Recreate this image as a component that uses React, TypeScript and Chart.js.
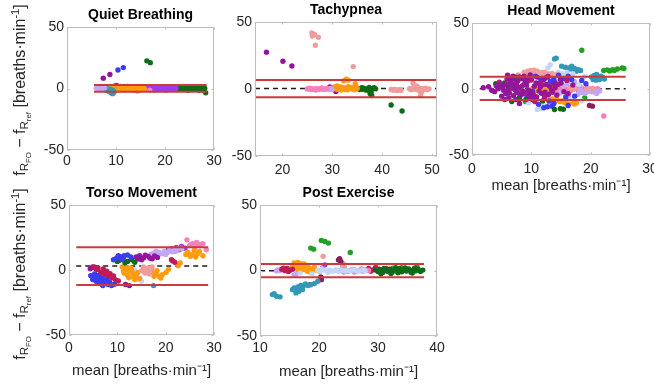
import React, { useEffect, useRef } from 'react';
import { Chart, registerables } from 'chart.js';

Chart.register(...registerables);

type P = [number, number];

// ---------------- Quiet Breathing ----------------
const quietTeal: P[] = [[6.6,-0.8],[7.0,0.4],[7.4,-0.3],[7.9,-1.0],[8.3,-1.8],[8.7,-2.6],[9.0,-3.4],[9.3,-4.2],[9.6,-3.0],[8.9,-0.6],[8.1,0.3],[9.4,-1.5]];
const quietLavender: P[] = [[6.0,0.2],[6.3,-0.3],[6.8,0.5],[7.2,0.0],[7.7,0.6]];
const quietPurple: P[] = [[7.4,8.4],[8.75,11.4],[9.7,1.8],[10.1,2.4],[10.5,1.4],[11.4,0.9],[12.4,1.7],[16.6,1.2]];
const quietBlue: P[] = [[10.4,15.0],[11.5,17.0]];
const quietOrange: P[] = [[8.6,0.3],[8.9,-0.5],[9.2,0.8],[9.5,0.1],[9.8,-0.9],[10.1,0.5],[10.4,1.1],[10.7,-0.2],[11.0,-0.7],[11.3,0.4],[11.6,0.9],[11.9,-0.3],[12.2,0.6],[12.5,0.0],[12.8,-0.8],[13.1,0.5],[13.4,0.2],[13.7,-0.4],[14.0,0.8],[14.3,-0.1],[14.6,0.3],[14.9,-0.6],[15.2,0.5],[15.5,0.1],[15.8,-0.3],[9.0,1.5],[9.6,-1.4],[10.3,-1.2],[11.0,1.6],[11.8,-1.3],[12.6,1.4],[13.3,-1.1],[14.1,1.3],[14.8,-1.2],[15.5,1.2]];
const quietPink: P[] = [[13.8,-1.5],[14.4,-2.0],[15.1,-1.0],[16.9,-1.3]];
const quietViolet: P[] = [[15.9,0.4],[16.2,-0.3],[16.5,0.7],[16.8,0.0],[17.1,-0.6],[17.4,0.5],[17.7,0.9],[18.0,-0.2],[18.3,0.3],[18.6,-0.7],[18.9,0.6],[19.2,0.1],[19.5,-0.4],[19.8,0.8],[20.1,0.0],[20.4,-0.5],[20.7,0.4],[21.0,0.9],[21.3,-0.3],[21.6,0.2],[21.9,-0.6],[22.2,0.5],[16.7,1.4],[17.9,-1.3],[19.0,1.5],[20.2,-1.2],[21.4,1.3]];
const quietDarkGreen: P[] = [[16.3,22.5],[17.0,21.0],[22.7,0.3],[23.0,-0.4],[23.3,0.7],[23.6,0.0],[23.9,-0.7],[24.2,0.5],[24.5,1.0],[24.8,-0.2],[25.1,0.4],[25.4,-0.8],[25.7,0.6],[26.0,0.1],[26.3,-0.5],[26.6,0.9],[26.9,0.0],[27.2,-0.6],[27.5,0.5],[27.8,-1.2],[28.1,0.3],[28.3,-3.5],[23.5,1.5],[24.7,-1.4],[25.9,1.4],[27.0,-1.5]];
const quietLimits = [0.1, 2.8, -2.6];   // bias, upper LoA, lower LoA
const quietSpan = [5.5, 28.5];

// ---------------- Tachypnea ----------------
const tachyPurple: P[] = [[16.8,27.5],[20.1,20.7],[21.9,17.2],[29.5,1.5],[30.7,-1.8]];
const tachySalmon: P[] = [[25.9,41.9],[26.4,40.7],[27.2,38.6],[26.0,39.6],[26.6,32.6],[34.2,16.7],[41.8,-0.3],[42.2,-1.0],[42.6,-0.4],[43.0,-1.2],[43.4,-0.6],[43.8,-0.9],[45.5,0.2],[45.8,-0.5],[46.1,0.8],[46.2,4.5],[46.4,0.0],[46.7,1.2],[47.0,-0.4],[47.3,0.9],[47.5,-1.5],[47.7,-4.8],[47.9,-2.3],[48.1,0.5],[48.4,-0.2],[48.7,0.6],[49.0,-0.5],[49.4,0.1],[46.9,2.2]];
const tachyPink: P[] = [[25.0,0.0],[25.3,0.3],[25.6,-0.2],[25.9,0.2],[26.2,-0.3],[26.5,0.1],[26.8,0.3],[27.1,-0.2],[27.4,0.2],[27.7,-0.1],[28.0,0.3],[28.3,-0.3],[28.6,0.1],[28.9,0.2],[25.5,0.6],[26.7,-0.7],[27.9,0.7]];
const tachyLavender: P[] = [[29.0,0.2],[29.3,-0.3],[29.6,0.3],[29.9,-0.2]];
const tachyOrange: P[] = [[29.6,0.4],[29.9,-0.5],[30.2,0.8],[30.5,0.1],[30.8,1.2],[31.1,-0.3],[31.4,0.6],[31.7,1.5],[32.0,0.2],[32.3,1.0],[32.6,-0.4],[32.9,0.8],[33.2,1.8],[33.5,0.3],[33.8,1.2],[34.1,-0.2],[34.4,0.9],[34.7,2.6],[35.0,0.5],[30.4,1.6],[31.8,-0.8],[33.0,-0.6],[34.5,-0.5],[32.3,6.1],[32.8,7.3],[33.2,6.6],[34.6,4.0],[31.0,2.2]];
const tachyDarkGreen: P[] = [[35.2,0.3],[35.5,-0.4],[35.8,0.6],[36.1,-0.2],[36.4,0.5],[36.7,-0.8],[37.0,0.2],[37.3,-1.2],[37.6,-3.5],[37.9,-4.8],[37.8,-2.0],[38.1,0.4],[38.4,0.9],[38.7,0.1],[36.0,1.0],[37.4,1.1],[41.8,-11.9],[44.0,-16.4]];
const tachyLimits = [0.3, 6.7, -6.1];
const tachySpan = [14.5, 51];

// ---------------- Head Movement ----------------
const headPurple: P[] = [[1.9,0.9],[2.8,1.7],[4.4,0.1],[5.8,3.4],[5.0,-5.4],[6.3,-2.9],[7.2,-0.4],[7.7,5.9],[8.3,-4.2],[9.6,-5.4],[10.5,2.1],[11.3,-1.6],[12.1,7.2],[12.9,-4.2],[8.8,9.7],[6.9,9.7],[5.5,-7.9],[8.0,-11.0],[10.2,-7.9],[14.0,0.9],[14.9,7.2],[6.3,7.2],[4.1,2.2],[7.4,-7.9],[3.3,-1.0],[5.2,1.5],[6.0,-1.2],[6.8,3.0],[7.9,1.2],[8.6,-1.8],[9.2,2.8],[9.9,-2.5],[10.8,4.6],[11.7,-3.3],[12.5,3.5],[13.4,-0.8],[9.0,5.5],[7.0,-5.0],[6.5,5.0],[11.0,9.0],[13.8,4.2],[15.5,-2.0],[8.4,7.8],[9.8,10.6],[5.7,-3.5],[7.6,2.2],[3.8,-2.0],[4.8,3.0],[5.3,-1.0],[6.2,-6.5],[7.0,7.8],[7.8,-3.0],[8.2,0.5],[8.9,4.0],[9.5,-0.8],[10.1,-4.5],[10.9,-6.0],[11.5,1.5],[12.3,-2.5],[13.1,2.0],[14.3,-4.5],[15.0,4.5],[16.2,-3.5],[17.0,3.0],[6.0,10.5],[9.3,8.0]];
const headMagenta: P[] = [[8.0,9.2],[9.4,5.9],[6.6,0.5],[7.3,4.0],[10.0,6.8],[5.9,7.5],[11.6,4.5],[8.9,-3.0],[12.2,-6.0],[10.6,-9.5],[4.6,5.2],[7.5,-2.0],[8.5,2.5],[10.3,-3.5],[11.8,3.0],[13.6,-2.5],[14.5,3.5],[16.0,6.5],[12.8,9.5],[9.7,-6.8]];
const headBlue: P[] = [[10.7,9.7],[11.6,7.2],[12.4,8.4],[13.2,5.9],[13.8,7.7],[16.2,9.7],[16.8,7.2],[12.1,-14.2],[12.7,-13.5],[13.5,-13.0],[9.6,-2.9],[10.2,-1.6],[17.3,-5.4],[7.4,4.6],[11.2,-11.5],[14.6,10.5],[15.5,8.0],[13.0,-9.0],[8.3,8.5],[9.0,-4.0],[11.3,4.2],[14.0,5.0],[15.8,-6.0],[18.5,6.5],[19.2,4.0],[16.2,-12.5],[13.8,-11.0]];
const headDarkGreen: P[] = [[9.1,-7.9],[8.0,-6.6],[13.9,-15.5],[14.9,-15.0],[15.4,-15.3],[10.5,-5.4],[5.5,4.6],[6.1,1.7],[4.0,4.0],[7.3,9.0],[11.9,-9.0],[6.7,-9.5]];
const headGreen: P[] = [[18.5,29.3],[22.2,14.0],[22.8,14.5],[23.7,14.7],[24.5,15.2],[25.3,16.0],[25.6,15.5],[23.2,13.6],[24.0,14.0],[6.9,2.2],[17.9,-0.4],[9.0,-9.5],[16.5,7.8],[19.0,-6.5]];
const headTeal: P[] = [[13.9,22.8],[14.2,23.4],[15.1,17.3],[15.7,16.5],[16.2,16.0],[16.8,17.3],[17.3,15.5],[17.9,14.7],[18.3,14.0],[17.6,13.5],[17.1,14.2],[16.5,15.2],[20.1,9.2],[20.6,10.2],[21.2,8.4],[21.7,9.7],[20.9,6.7],[21.5,7.2],[22.0,8.9],[20.4,7.2],[21.0,11.0],[22.3,7.5]];
const headLightBlue: P[] = [[13.2,18.5],[11.0,-15.5],[11.5,-14.8],[12.8,16.0],[9.5,-10.5],[18.0,3.5],[16.5,-8.0],[15.2,11.5],[14.5,12.5],[17.0,11.5],[19.0,9.5],[12.0,-12.0],[16.0,12.5],[18.5,-9.0]];
const headSalmon: P[] = [[8.8,12.7],[9.4,13.5],[9.9,14.0],[10.5,14.2],[11.0,13.5],[11.6,12.2],[9.6,11.7],[12.2,12.8],[12.8,11.5],[10.2,12.5],[16.5,1.0],[17.2,0.5],[19.5,0.8],[20.4,0.3],[13.5,11.8],[14.3,10.8],[7.8,10.6]];
const headOrange: P[] = [[10.2,0.4],[10.5,-0.3],[10.8,0.8],[11.1,0.0],[11.4,0.6],[11.7,-0.4],[12.0,0.5],[12.3,1.0],[12.6,-0.2],[12.9,0.4],[13.2,-0.6],[13.5,0.7],[13.8,0.1],[11.0,-1.2],[12.5,-1.3],[12.4,-7.0],[12.8,-7.8],[13.2,-8.3],[13.6,-7.5],[14.0,-9.0],[14.4,-8.6],[14.8,-9.6],[15.2,-8.9],[15.6,-10.2],[16.0,-9.4],[16.4,-10.8],[16.8,-10.1],[17.2,-11.4],[17.6,-10.6],[14.2,-7.2],[15.8,-8.0],[13.0,-9.8]];
const headPink: P[] = [[14.0,0.2],[14.4,-0.4],[14.8,0.5],[15.2,-0.1],[15.6,0.6],[16.0,-0.5],[16.4,0.3],[16.8,0.9],[17.2,-0.2],[17.6,0.4],[18.0,-0.6],[18.4,0.7],[18.8,0.0],[19.2,-0.4],[19.6,0.5],[20.0,-0.2],[20.4,0.4],[20.8,-0.5],[21.2,0.2],[15.0,1.3],[16.6,-1.3],[18.2,1.5],[19.8,-1.4],[22.2,-20.5],[13.0,10.0],[12.0,11.0]];
const headLavender: P[] = [[17.9,-4.0],[18.5,-2.5],[19.1,-3.2],[19.7,-1.5],[20.3,-2.2],[20.6,-0.5],[18.2,-1.0],[19.4,0.5],[21.0,-3.5],[16.0,4.0],[15.4,2.5],[11.8,12.3],[10.0,7.5],[13.0,3.0],[14.8,-3.0],[17.3,5.5],[21.5,-1.5],[16.3,-5.5]];
const headPlum: P[] = [[19.8,-12.5],[20.3,-13.0]];
const headLimits = [0.2, 9.3, -8.3];
const headSpan = [1.3, 25.9];

// ---------------- Torso Movement ----------------
const torsoPink: P[] = [[24.4,23.2],[25.5,20.2],[26.4,21.2],[27.0,19.4],[27.7,20.2],[28.4,15.6],[26.1,18.1],[25.0,19.0]];
const torsoOrange: P[] = [[24.6,13.5],[25.5,11.7],[26.6,12.5],[27.7,11.0],[25.1,10.5],[27.0,14.3],[25.9,15.0],[24.2,12.0],[26.2,10.0],[11.0,2.3],[11.7,0.3],[12.5,-1.0],[13.2,-2.8],[13.9,-4.8],[14.6,-6.6],[11.4,-2.3],[12.1,-4.3],[13.6,-7.4],[12.8,1.5],[11.3,-0.8],[12.0,2.0],[13.0,-0.3],[14.2,-2.0],[12.4,-6.0],[13.3,-5.3],[17.2,-1.0],[17.9,-2.8],[18.6,-4.8],[19.3,-3.6],[20.1,-1.8],[17.6,-4.8],[19.0,-6.1],[18.2,-0.5],[20.6,0.5],[22.6,3.3],[23.0,5.4]];
const torsoLavender: P[] = [[17.5,13.0],[18.6,13.5],[19.7,14.3],[20.8,15.0],[21.9,15.6],[22.6,16.1],[18.1,11.7],[19.1,12.5],[20.3,13.3],[21.4,14.0],[23.3,16.6],[17.0,12.2],[18.0,14.5],[20.0,12.0],[22.0,14.2]];
const torsoViolet: P[] = [[21.2,16.3],[22.2,17.3],[23.3,18.1],[24.0,16.8],[22.8,15.6],[21.7,14.8],[20.5,15.5]];
const torsoPurple: P[] = [[13.9,10.0],[14.6,11.0],[15.4,9.2],[16.4,10.5],[17.2,8.7],[18.3,9.7],[15.0,7.9],[14.2,8.5],[15.8,11.3],[16.8,9.0],[17.7,10.8],[11.7,-11.2],[12.5,-12.0],[4.9,2.3],[5.6,0.8],[4.4,1.0]];
const torsoBlue: P[] = [[9.2,7.9],[9.9,9.2],[10.7,10.0],[11.4,11.0],[12.1,11.5],[12.8,10.0],[11.0,7.9],[10.2,11.0],[4.5,-4.3],[5.2,-6.1],[5.9,-7.4],[6.7,-8.7],[7.4,-9.9],[8.1,-11.2],[8.8,-12.0],[6.3,-9.9],[5.6,-8.7],[7.8,-7.4],[4.9,-7.4],[7.0,-12.0],[9.4,-11.0],[6.0,-5.0],[5.3,-3.0],[8.4,-9.5],[6.9,-6.3]];
const torsoDarkGreen: P[] = [[9.6,8.4],[10.3,7.4],[11.2,8.4],[12.1,6.6],[13.0,7.9],[10.0,6.6],[13.6,5.9],[11.6,5.6]];
const torsoCrimson: P[] = [[5.2,2.3],[5.9,0.3],[6.7,-1.8],[7.4,-3.6],[8.1,-4.8],[8.8,-6.1],[9.6,-7.4],[6.3,-3.6],[7.8,-1.0],[8.5,-2.8],[10.2,-8.5],[9.2,-4.5],[7.1,0.8],[6.0,1.5],[21.2,7.9],[21.9,5.9],[21.5,7.0]];
const torsoSalmon: P[] = [[15.4,2.3],[16.1,0.3],[16.8,-1.0],[15.7,-2.3],[16.4,1.5],[17.2,2.3],[15.0,-0.5],[16.6,-3.0]];
const torsoLightBlue: P[] = [[14.3,-7.4],[15.0,-8.7],[13.6,0.3],[14.7,-6.5]];
const torsoTeal: P[] = [[17.5,-12.0]];
const torsoLimits = [3.0, 17.5, -11.5];
const torsoSpan = [1.5, 28.8];

// ---------------- Post Exercise ----------------
const postTeal: P[] = [[12.1,-18.4],[12.8,-19.6],[13.4,-20.1],[12.4,-17.8],[15.8,-13.3],[16.4,-12.5],[16.9,-11.5],[17.3,-12.0],[17.7,-10.3],[16.1,-17.1],[16.6,-15.8],[17.2,-14.6],[18.1,-11.5],[19.2,-10.0],[19.8,-8.2],[15.5,-14.6],[16.0,-14.0],[18.6,-10.8]];
const postGreen: P[] = [[18.6,17.1],[19.1,16.3],[20.4,22.9],[21.0,22.2],[21.6,20.9],[25.3,13.8],[29.6,2.5],[32.5,1.8],[36.6,3.0],[34.0,2.2]];
const postSalmon: P[] = [[20.7,10.8],[24.1,5.2],[24.3,2.7],[24.0,4.0]];
const postPlum: P[] = [[23.5,9.0],[23.7,7.0],[20.4,-7.0],[20.3,-4.9],[18.5,-10.8],[23.3,8.0]];
const postOrange: P[] = [[15.8,5.7],[16.4,6.2],[17.0,5.2],[16.1,3.7],[16.9,2.5],[17.7,3.7],[18.3,2.0],[18.9,0.8],[19.5,0.3],[20.1,-0.5],[17.3,0.8],[16.4,0.8],[18.0,-0.5],[15.5,2.5],[18.6,-1.3],[19.2,2.5],[16.7,-1.3],[17.5,5.0],[15.9,4.5],[16.8,4.2],[18.0,3.0]];
const postCrimson: P[] = [[13.7,1.0],[14.2,0.0],[14.6,1.5],[15.0,0.0],[15.5,1.0],[14.8,-0.8],[14.0,1.8],[28.4,1.5],[29.0,0.5],[29.6,1.8],[30.2,1.0],[30.8,0.0],[31.4,1.5],[28.8,-0.5],[30.0,-0.3]];
const postLavender: P[] = [[13.4,0.0],[13.0,0.5],[15.8,-3.5],[16.1,-2.8],[12.8,-0.3]];
const postLightBlue: P[] = [[19.8,0.2],[20.3,-0.4],[20.8,0.5],[21.3,-0.2],[21.8,0.3],[22.3,-0.5],[22.8,0.4],[23.3,-0.1],[23.8,0.3],[24.3,-0.4],[24.8,0.2],[25.3,-0.3],[25.8,0.4],[26.3,0.0],[26.8,-0.4],[27.3,0.3],[27.8,-0.2],[20.5,1.2],[21.5,-1.3],[18.8,-2.5],[16.8,-2.0]];
const postPink: P[] = [[22.9,0.3],[23.4,-0.3],[23.9,0.6],[24.4,0.0],[24.9,-0.6],[25.4,0.4],[25.9,0.8],[26.4,-0.2],[26.9,0.3],[27.4,-0.5],[27.9,0.4],[28.4,0.0],[24.2,-1.2],[26.0,-1.1],[27.2,1.2]];
const postDarkGreen: P[] = [[29.6,0.3],[30.0,-0.8],[30.4,0.6],[30.8,-1.5],[31.2,0.2],[31.6,-0.6],[32.0,1.0],[32.4,-1.2],[32.8,0.4],[33.2,-0.3],[33.6,1.3],[34.0,-1.0],[34.4,0.5],[34.8,-0.4],[35.2,1.1],[35.6,-1.3],[36.0,0.6],[36.4,-0.2],[36.8,0.9],[37.2,-0.7],[37.6,0.3],[31.0,1.6],[32.2,-2.2],[33.4,-1.8],[34.6,1.9],[35.8,-2.0],[30.5,-2.5],[33.0,2.2],[36.2,1.8]];
const postViolet: P[] = [[21.0,4.3],[20.6,2.0]];
const postLimits = [-0.1, 5.0, -5.2];
const postSpan = [10, 37.8];

// ---------------- axes ----------------
const yTicks = [-50, 0, 50];
const ticks0to30 = [0, 10, 20, 30];
const tachyTicks = [20, 30, 40, 50];
const postTicks = [10, 20, 30, 40];

const titles = ['Quiet Breathing', 'Tachypnea', 'Head Movement', 'Torso Movement', 'Post Exercise'];
const xAxisTitle = 'mean [breaths·min⁻¹]';

// ---------------- styles ----------------
const COL = {
  purple: '#92169C', violet: '#9B3CF4', blue: '#3C3CF2', darkGreen: '#0E6B18', green: '#22A022',
  orange: '#FF9B0F', pink: '#F67FBC', salmon: '#EE9C9C', teal: '#3298B6', lavender: '#C4A7F3',
  lightBlue: '#C4D6F6', crimson: '#C21A55', magenta: '#B4177E', plum: '#8A1F5E',
};
const RED = '#CC3B3B';
const FONT = "'Liberation Sans', Arial, Helvetica, sans-serif";
const TEXT = '#262626';

type Series = { color: string; pts: P[] };
type PanelDef = {
  title: string; box: [number, number, number, number];
  xMin: number; xMax: number; xTicks: number[]; xTitle: boolean;
  tickGap: number; titleGap: number;
  series: Series[]; limits: number[]; span: number[];
};

const panels: PanelDef[] = [
  { title: titles[0], box: [67, 27, 214, 150], xMin: 0, xMax: 30, xTicks: ticks0to30, xTitle: false, tickGap: 11, titleGap: 0,
    limits: quietLimits, span: quietSpan,
    series: [
      { color: COL.lavender, pts: quietLavender }, { color: COL.teal, pts: quietTeal }, { color: COL.orange, pts: quietOrange },
      { color: COL.pink, pts: quietPink }, { color: COL.violet, pts: quietViolet }, { color: COL.darkGreen, pts: quietDarkGreen },
      { color: COL.purple, pts: quietPurple }, { color: COL.blue, pts: quietBlue },
    ] },
  { title: titles[1], box: [255, 22, 437, 156], xMin: 14.5, xMax: 51, xTicks: tachyTicks, xTitle: false, tickGap: 14, titleGap: 0,
    limits: tachyLimits, span: tachySpan,
    series: [
      { color: COL.pink, pts: tachyPink }, { color: COL.lavender, pts: tachyLavender }, { color: COL.salmon, pts: tachySalmon },
      { color: COL.orange, pts: tachyOrange }, { color: COL.darkGreen, pts: tachyDarkGreen }, { color: COL.purple, pts: tachyPurple },
    ] },
  { title: titles[2], box: [472, 23, 650, 155], xMin: 0, xMax: 30, xTicks: ticks0to30, xTitle: true, tickGap: 14, titleGap: 31,
    limits: headLimits, span: headSpan,
    series: [
      { color: COL.purple, pts: headPurple }, { color: COL.magenta, pts: headMagenta }, { color: COL.darkGreen, pts: headDarkGreen },
      { color: COL.blue, pts: headBlue }, { color: COL.salmon, pts: headSalmon }, { color: COL.lightBlue, pts: headLightBlue },
      { color: COL.orange, pts: headOrange }, { color: COL.lavender, pts: headLavender }, { color: COL.pink, pts: headPink },
      { color: COL.teal, pts: headTeal }, { color: COL.green, pts: headGreen }, { color: COL.plum, pts: headPlum },
    ] },
  { title: titles[3], box: [69, 205, 214, 335], xMin: 0, xMax: 30, xTicks: ticks0to30, xTitle: true, tickGap: 13, titleGap: 36,
    limits: torsoLimits, span: torsoSpan,
    series: [
      { color: COL.blue, pts: torsoBlue }, { color: COL.crimson, pts: torsoCrimson }, { color: COL.darkGreen, pts: torsoDarkGreen },
      { color: COL.purple, pts: torsoPurple }, { color: COL.salmon, pts: torsoSalmon }, { color: COL.orange, pts: torsoOrange },
      { color: COL.lightBlue, pts: torsoLightBlue }, { color: COL.teal, pts: torsoTeal }, { color: COL.lavender, pts: torsoLavender },
      { color: COL.violet, pts: torsoViolet }, { color: COL.pink, pts: torsoPink },
    ] },
  { title: titles[4], box: [260, 205, 437, 336], xMin: 10, xMax: 40, xTicks: postTicks, xTitle: true, tickGap: 12.5, titleGap: 36,
    limits: postLimits, span: postSpan,
    series: [
      { color: COL.lightBlue, pts: postLightBlue }, { color: COL.pink, pts: postPink }, { color: COL.darkGreen, pts: postDarkGreen },
      { color: COL.crimson, pts: postCrimson }, { color: COL.lavender, pts: postLavender }, { color: COL.orange, pts: postOrange },
      { color: COL.teal, pts: postTeal }, { color: COL.plum, pts: postPlum }, { color: COL.salmon, pts: postSalmon },
      { color: COL.violet, pts: postViolet }, { color: COL.green, pts: postGreen },
    ] },
];

const boxPlugin = {
  id: 'matlabBox',
  afterDraw(chart: any) {
    const { ctx, chartArea: a, scales } = chart;
    ctx.save();
    ctx.strokeStyle = '#BDBDBD';
    ctx.lineWidth = 1;
    const L = Math.round(a.left) + 0.5, T = Math.round(a.top) + 0.5;
    const R = Math.round(a.right) - 0.5, B = Math.round(a.bottom) - 0.5;
    ctx.strokeRect(L, T, R - L, B - T);
    const tl = 2;
    ctx.beginPath();
    scales.x.ticks.forEach((tk: any) => {
      const px = Math.round(scales.x.getPixelForValue(tk.value)) + 0.5;
      ctx.moveTo(px, B); ctx.lineTo(px, B - tl);
      ctx.moveTo(px, T); ctx.lineTo(px, T + tl);
    });
    scales.y.ticks.forEach((tk: any) => {
      const py = Math.round(scales.y.getPixelForValue(tk.value)) + 0.5;
      ctx.moveTo(L, py); ctx.lineTo(L + tl, py);
      ctx.moveTo(R, py); ctx.lineTo(R - tl, py);
    });
    ctx.stroke();
    ctx.restore();
  },
};

const PADL = 50, PADR = 14, PADT = 26, TITLE_H = 19.8;

function Panel({ p }: { p: PanelDef }) {
  const ref = useRef<HTMLCanvasElement>(null);
  const [l, t, r, b] = p.box;
  const PADB = p.xTitle ? p.titleGap + 14 : p.tickGap + 14;
  const W = r - l + PADL + PADR;
  const H = b - t + PADT + PADB;

  useEffect(() => {
    if (!ref.current) return;
    const [mean, upper, lower] = p.limits;
    const [from, to] = p.span;
    const datasets: any[] = [];
    datasets.push({
      data: [{ x: from, y: mean }, { x: to, y: mean }], showLine: true, borderColor: '#1E1E1E',
      borderWidth: 1.5, borderDash: [5, 4], pointRadius: 0, order: 3,
    });
    p.series.forEach((s) => {
      datasets.push({
        data: s.pts.map(([x, y]) => ({ x, y })), backgroundColor: s.color, borderColor: s.color,
        borderWidth: 0, pointRadius: 2.7, pointHoverRadius: 2.7, order: 2,
      });
    });
    [upper, lower].forEach((v) => {
      datasets.push({
        data: [{ x: from, y: v }, { x: to, y: v }], showLine: true, borderColor: RED,
        borderWidth: 2, pointRadius: 0, order: 1,
      });
    });

    const chart = new Chart(ref.current, {
      type: 'scatter',
      data: { datasets },
      options: {
        animation: false,
        responsive: false,
        events: [],
        layout: { padding: { top: PADT - TITLE_H, right: PADR, left: 0, bottom: 0 } },
        plugins: {
          legend: { display: false },
          tooltip: { enabled: false },
          title: {
            display: true, text: p.title, color: '#000', fullSize: false,
            font: { family: FONT, size: 14, weight: 'bold', lineHeight: 1.2 },
            padding: { top: 0, bottom: 3 },
          },
        },
        scales: {
          x: {
            type: 'linear', min: p.xMin, max: p.xMax,
            grid: { display: false, drawTicks: false }, border: { display: false },
            afterBuildTicks: (ax: any) => { ax.ticks = p.xTicks.map((v) => ({ value: v })); },
            ticks: { font: { family: FONT, size: 14 }, color: TEXT, padding: p.tickGap - 8.4, maxRotation: 0, autoSkip: false },
            title: {
              display: p.xTitle, text: xAxisTitle, color: TEXT,
              font: { family: FONT, size: 15, lineHeight: 1.2 }, padding: { top: 0, bottom: PADB - p.titleGap - 9 },
            },
            afterFit: (ax: any) => { ax.height = PADB; },
          },
          y: {
            type: 'linear', min: -50, max: 50,
            grid: { display: false, drawTicks: false }, border: { display: false },
            afterBuildTicks: (ax: any) => { ax.ticks = yTicks.map((v) => ({ value: v })); },
            ticks: { font: { family: FONT, size: 14 }, color: TEXT, padding: 3, autoSkip: false },
            afterFit: (ax: any) => { ax.width = PADL; },
          },
        },
      } as any,
      plugins: [boxPlugin],
    });
    return () => chart.destroy();
  }, []);

  return (
    <canvas
      ref={ref}
      width={W}
      height={H}
      style={{ position: 'absolute', left: l - PADL, top: t - PADT, width: W, height: H }}
    />
  );
}

function YLabel({ cy }: { cy: number }) {
  const sub1: React.CSSProperties = { fontSize: '0.72em', verticalAlign: '-0.3em', lineHeight: 0 };
  const sub2: React.CSSProperties = { fontSize: '0.68em', verticalAlign: '-0.35em', lineHeight: 0 };
  return (
    <div
      style={{
        position: 'absolute', left: 20, top: cy, transform: 'translate(-50%, -50%) rotate(-90deg)',
        whiteSpace: 'nowrap', fontSize: 16, color: TEXT, fontFamily: FONT, lineHeight: '18px',
      }}
    >
      f<span style={sub1}>R<span style={sub2}>FO</span></span> − f<span style={sub1}>R<span style={sub2}>ref</span></span>{' '}
      [breaths·min<span style={{ fontSize: '0.7em', verticalAlign: '0.5em', lineHeight: 0 }}>-1</span>]
    </div>
  );
}

export default function App() {
  return (
    <div
      style={{
        position: 'fixed', left: 0, top: 0, width: 654, height: 388, overflow: 'hidden',
        background: '#fff', fontFamily: FONT,
      }}
    >
      {panels.map((p) => (
        <Panel key={p.title} p={p} />
      ))}
      <YLabel cy={90} />
      <YLabel cy={274} />
    </div>
  );
}
